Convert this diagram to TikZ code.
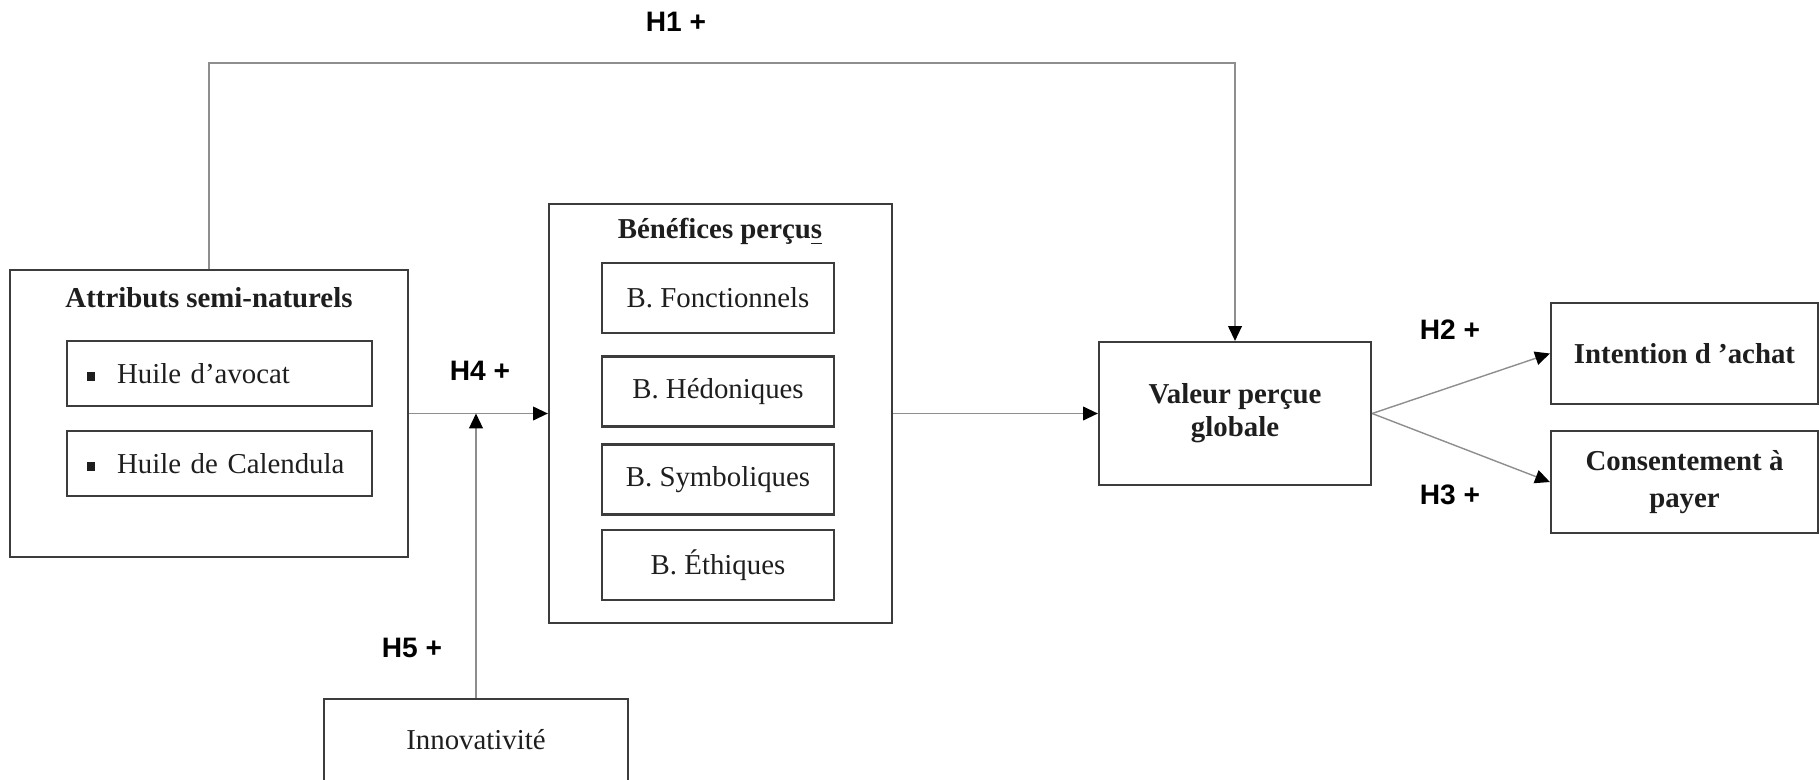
\documentclass[tikz,border=0pt]{standalone}
\usepackage{fontspec}
\setmainfont{Liberation Serif}
\newfontfamily\hypfont{Liberation Sans}
\usepackage{tikz}
\usetikzlibrary{arrows.meta}

\definecolor{boxgray}{HTML}{3C3C3C}
\definecolor{linegray}{HTML}{8E8E8E}
\definecolor{txtgray}{HTML}{1E1E1E}

\tikzset{
  box/.style={draw=boxgray, line width=0.6pt, inner sep=0pt, text=txtgray,
    font=\fontsize{8.2}{9.8}\selectfont},
  boldbox/.style={box, align=center, font=\fontsize{8.2}{9.4}\selectfont\bfseries},
  link/.style={draw=linegray, line width=0.4pt,
    -{Triangle[length=4.2pt, width=3.9pt, color=black]}},
  hyp/.style={inner sep=0pt, text=black, font=\hypfont\bfseries\fontsize{8}{9.6}\selectfont}
}

\begin{document}
\begin{tikzpicture}[x=0.01cm, y=-0.01cm]
\clip (0,0) rectangle (1819,779);

%Attributs semi-naturels
\node[box, minimum width=3.98cm, minimum height=2.86cm] (attr) at (209,413.5) {};
\node[inner sep=0pt, font=\fontsize{8.2}{9.8}\selectfont\bfseries, text=txtgray] (attrT) at (209,298) {Attributs semi-naturels};
\def\Huile#1#2#3{
\node[box, minimum width=3.05cm, minimum height=0.65cm, text width=2.65cm, align=left] (#1) at (219.5,#2)
  {\rule[0.8pt]{2.3pt}{2.3pt}\hspace{0.22cm}#3};
}
\Huile{huileA}{373.5}{Huile d’avocat}
\Huile{huileB}{463.5}{Huile de Calendula}

%Benefices percus
\node[box, minimum width=3.43cm, minimum height=4.18cm] (bene) at (720.5,413.5) {};
\node[inner sep=0pt, font=\fontsize{8.2}{9.8}\selectfont\bfseries, text=txtgray] (beneT) at (720,232) {Bénéfices perçu\underline{s}};
\foreach \nm/\yy/\txt in {fonct/298/B. Fonctionnels, hedon/391.5/B. Hédoniques,
                          symbo/479.5/B. Symboliques, ethiq/565/B. Éthiques}
{ \node[box, minimum width=2.32cm, minimum height=0.70cm] (\nm) at (718,\yy) {\txt}; }

%Innovativite
\node[box, minimum width=3.04cm, minimum height=0.82cm] (innov) at (476,740) {Innovativité};

%Valeur et consequences
\node[boldbox, minimum width=2.72cm, minimum height=1.43cm] (valeur) at (1235,413.5) {Valeur perçue\\globale};
\node[boldbox, minimum width=2.67cm, minimum height=1.01cm] (intent) at (1684.5,353.5) {Intention d ’achat};
\node[boldbox, minimum width=2.67cm, minimum height=1.02cm, font=\fontsize{8.2}{10.6}\selectfont\bfseries] (consent) at (1684.5,482) {Consentement à\\payer};

%liens
\coordinate (topL) at (209,63);
\coordinate (topR) at (1235,63);
\draw[link] (attr.north) -- (topL) -- (topR) -- (valeur.north);
\draw[link] (attr.east) -- (bene.west);
\coordinate (junc) at (innov.north |- attr.east);
\draw[link] (innov.north) -- (junc);
\draw[link] (bene.east) -- (valeur.west);
\draw[link] (valeur.east) -- (intent.west);
\draw[link] (valeur.east) -- (consent.west);

%hypotheses
\node[hyp] (hA) at (676,22) {H1 +};
\node[hyp] (hB) at (1450,330) {H2 +};
\node[hyp] (hC) at (1450,495) {H3 +};
\node[hyp] (hD) at (480,371) {H4 +};
\node[hyp] (hE) at (412,648) {H5 +};
\end{tikzpicture}
\end{document}
